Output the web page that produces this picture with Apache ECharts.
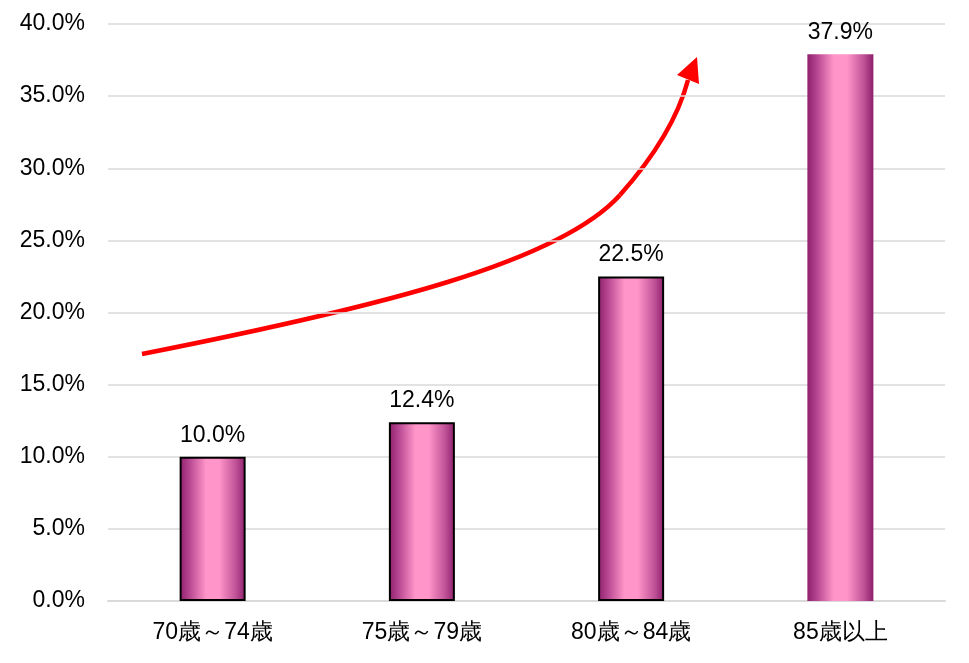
<!DOCTYPE html>
<html><head><meta charset="utf-8">
<script src="https://cdn.jsdelivr.net/npm/echarts@6/dist/echarts.min.js"></script>
<style>html,body{margin:0;padding:0;background:#fff}#c{width:969px;height:663px}</style>
</head><body><div id="c"></div>
<script>
const categories = ['70歳～74歳', '75歳～79歳', '80歳～84歳', '85歳以上'];
const values = [10.0, 12.4, 22.5, 37.9];
const yTicks = [0, 5, 10, 15, 20, 25, 30, 35, 40];

const chart = echarts.init(document.getElementById('c'), null, {renderer: 'canvas'});
const grad = {type: 'linear', x: 0, y: 0, x2: 1, y2: 0, colorStops: [
  {offset: 0, color: '#8d1f6c'},
  {offset: 0.15, color: '#b84792'},
  {offset: 0.4, color: '#ff95c9'},
  {offset: 0.6, color: '#ff95c9'},
  {offset: 0.85, color: '#c05398'},
  {offset: 1, color: '#8d1f6c'}
]};
const font = 'Liberation Sans, Arial, sans-serif';
const fs = 23;
chart.setOption({
  animation: false,
  grid: {left: 108, right: 24, top: 24, bottom: 62},
  xAxis: {
    type: 'category', data: categories,
    axisLine: {lineStyle: {color: '#d9d9d9', width: 2}},
    axisTick: {show: false},
    axisLabel: {color: '#000', fontSize: fs, fontFamily: font, margin: 20}
  },
  yAxis: {
    type: 'value', min: yTicks[0], max: yTicks[yTicks.length - 1], interval: 5,
    axisLine: {show: false}, axisTick: {show: false},
    splitLine: {lineStyle: {color: '#d9d9d9', width: 1.5}},
    axisLabel: {color: '#000', fontSize: fs, fontFamily: font, margin: 23,
      formatter: v => v.toFixed(1) + '%'}
  },
  series: [{
    type: 'bar', barWidth: 66,
    data: values.map((v, i) => ({
      value: v,
      itemStyle: {color: grad, borderColor: i < 3 ? '#000' : 'transparent', borderWidth: i < 3 ? 2 : 0}
    })),
    label: {show: true, position: 'top', distance: 10, color: '#000', fontSize: fs, fontFamily: font,
      formatter: p => p.value.toFixed(1) + '%'}
  }],
  graphic: [
    {type: 'bezierCurve', shape: {x1: 142, y1: 354, cpx1: 380, cpy1: 307, cpx2: 560, cpy2: 262, x2: 620, y2: 195},
     style: {fill: null, stroke: '#ff0000', lineWidth: 4.5}},
    {type: 'bezierCurve', shape: {x1: 620, y1: 195, cpx1: 660, cpy1: 150, cpx2: 680, cpy2: 110, x2: 688, y2: 80},
     style: {fill: null, stroke: '#ff0000', lineWidth: 4.5}},
    {type: 'polygon', shape: {points: [[697, 57], [677, 75], [699, 84]]}, style: {fill: '#ff0000'}}
  ]
});
</script></body></html>
